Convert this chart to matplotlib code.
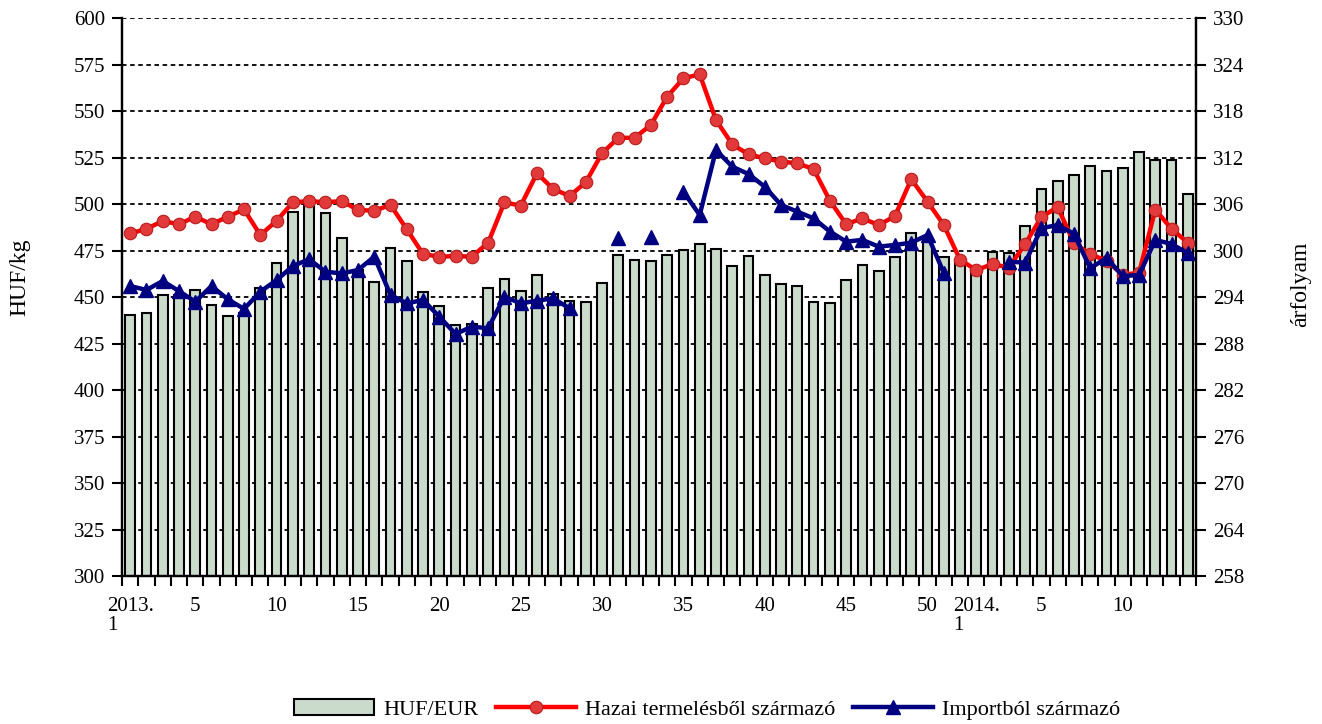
import matplotlib.pyplot as plt
import numpy as np

plt.rcParams['font.family'] = ['Liberation Serif', 'DejaVu Serif']
plt.rcParams['font.size'] = 15

nan = np.nan

# 2013 weeks 1-52, 2014 weeks 1-14
weeks = np.arange(1, 67)
tick_pos = [1, 5, 10, 15, 20, 25, 30, 35, 40, 45, 50, 53, 57, 62]
tick_labels = ['2013.\n1', '5', '10', '15', '20', '25', '30', '35', '40',
               '45', '50', '2014.\n1', '5', '10']

# HUF/EUR exchange rate (right axis)
huf_eur = [291.7, 292.0, 294.2, 294.2, 294.9, 293.0, 291.6, 292.0, 295.1, 298.4,
           305.0, 305.9, 304.8, 301.6, 297.5, 296.0, 300.3, 298.6, 294.6, 292.8,
           290.4, 290.5, 295.2, 296.3, 294.8, 296.9, 294.4, 293.5, 293.4, 295.8,
           299.4, 298.8, 298.7, 299.4, 300.1, 300.9, 300.2, 298.0, 299.3, 296.8,
           295.7, 295.4, 293.4, 293.2, 296.2, 298.1, 297.4, 299.2, 302.2, 301.3,
           299.1, 298.5, 297.5, 299.8, 299.7, 303.1, 307.9, 309.0, 309.7, 310.9,
           310.3, 310.6, 312.75, 311.7, 311.7, 307.3]

# HUF/kg, domestic production
hazai = [484.2, 486.6, 490.9, 489.1, 493.2, 489.1, 493.2, 497.1, 483.3, 491.0,
         500.9, 501.6, 500.9, 501.6, 496.8, 496.4, 499.5, 486.4, 473.1, 471.7,
         472.0, 471.7, 479.2, 500.9, 499.1, 516.5, 508.1, 504.3, 511.7, 527.3,
         535.6, 535.6, 542.5, 557.7, 567.6, 569.7, 545.2, 532.1, 526.7, 524.6,
         522.8, 521.9, 518.8, 501.8, 489.1, 492.3, 488.7, 493.5, 513.3, 501.3,
         488.7, 470.0, 464.5, 467.7, 465.8, 478.5, 493.0, 498.4, 479.0, 473.0,
         469.5, 462.0, 463.0, 497.0, 486.6, 479.2]

# HUF/kg, import
importbol = [455.9, 453.8, 458.6, 453.2, 447.5, 455.9, 448.8, 443.6, 452.9, 459.1,
             466.7, 470.3, 463.6, 462.7, 464.5, 471.7, 451.1, 446.6, 448.4, 439.4,
             430.1, 434.1, 433.2, 450.2, 446.6, 448.0, 449.3, 443.9, nan, nan,
             481.6, nan, 482.1, nan, 506.6, 494.1, 529.0, 520.1, 516.1, 509.3,
             499.5, 495.9, 492.3, 485.2, 479.8, 480.7, 477.1, 478.0, 479.2, 483.3,
             463.0, nan, nan, nan, 469.0, 468.5, 487.0, 488.7, 484.0, 465.5,
             471.0, 461.3, 461.8, 480.7, 478.5, 473.5]

fig = plt.figure(figsize=(13.22, 7.24), dpi=100)
ax = fig.add_axes([0.0923, 0.2044, 0.8124, 0.7707])
ax2 = ax.twinx()
# lines on top of the bars
ax.set_zorder(ax2.get_zorder() + 1)
ax.patch.set_visible(False)

ax2.set_axisbelow(True)
bars = ax2.bar(weeks, huf_eur, width=0.6, bottom=0, color='#CADBCC',
               edgecolor='black', linewidth=1.5, label='HUF/EUR')
ax2.set_ylim(258, 330)
ax2.set_yticks(np.arange(258, 331, 6))
ax2.yaxis.grid(True, color='black', linestyle=(0, (2.5, 2)), linewidth=1.3)

l1, = ax.plot(weeks, hazai, color='#FF0000', lw=3.2, marker='o', ms=9,
              mfc='#E23A3A', mec='#B71C1C', mew=0.8,
              label='Hazai termelésből származó')
l2, = ax.plot(weeks, importbol, color='#000080', lw=3.2, marker='^', ms=10,
              mfc='#000080', mec='#000080', label='Importból származó')
ax.set_ylim(300, 600)
ax.set_yticks(np.arange(300, 601, 25))
ax.set_xlim(0.5, 66.5)

ax.set_xticks(tick_pos)
ax.set_xticklabels(tick_labels, multialignment='left', linespacing=1.0)
ax.set_xticks(np.arange(0.5, 67, 1), minor=True)
ax.tick_params(axis='x', which='major', length=0, pad=15)
ax.tick_params(axis='x', which='minor', length=7, width=1.5, direction='out')
ax.tick_params(axis='y', length=7, width=1.5, direction='out', pad=5)
ax2.tick_params(axis='y', length=7, width=1.5, direction='out', pad=5)

for a in (ax, ax2):
    a.spines['top'].set_visible(False)
    for s in ('left', 'right', 'bottom'):
        a.spines[s].set_linewidth(1.6)

ax.set_ylabel('HUF/kg', fontsize=17)
ax.yaxis.set_label_coords(-0.0855, 0.536)
ax2.set_ylabel('árfolyam', fontsize=17)
ax2.yaxis.set_label_coords(1.0875, 0.523)

fig.legend([bars, l1, l2], ['HUF/EUR', 'Hazai termelésből származó', 'Importból származó'],
           loc='lower center', bbox_to_anchor=(0.535, -0.022), ncol=3, frameon=False,
           fontsize=16, handlelength=3.6, columnspacing=0.8, handletextpad=0.4)

fig.savefig('out.png', dpi=100)
